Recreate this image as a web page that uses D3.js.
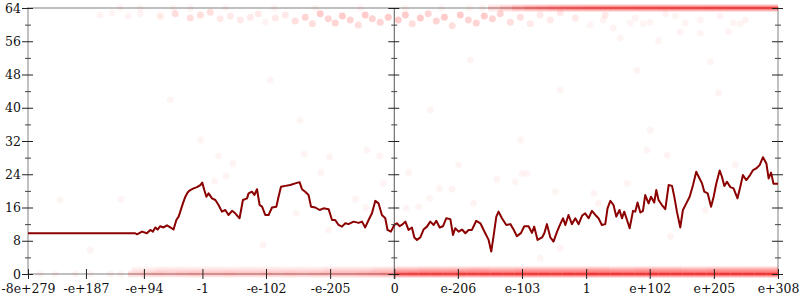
<!DOCTYPE html>
<html>
<head>
<meta charset="utf-8">
<script src="https://cdn.jsdelivr.net/npm/d3@7"></script>
<style>
  body { margin: 0; background: #fff; }
  text { font-family: "DejaVu Serif", serif; }
</style>
</head>
<body>
<script>
// x values are float64 bit patterns, in units of 2^52 (negatives mirrored)
const xTicks = [-1953, -1644, -1335, -1023, -684, -342, 0, 339, 681, 1023, 1362, 1704, 2046];
const xTickLabels = ["-8e+279", "-e+187", "-e+94", "-1", "-e-102", "-e-205", "0",
  "e-206", "e-103", "1", "e+102", "e+205", "e+308"];
const yTicks = [0, 8, 16, 24, 32, 40, 48, 56, 64];
const yMinorTicks = [4, 12, 20, 28, 36, 44, 52, 60];

// moving average  [x, value]
const averageLine = [
  [-1953, 9.8], [-1381, 9.8], [-1372, 9.55], [-1345, 10.2], [-1319, 9.8], [-1301, 10.6], [-1287, 10.2],
  [-1274, 11.2], [-1262, 10.7], [-1248, 11.5], [-1230, 11.2], [-1212, 11.7], [-1194, 11.2], [-1177, 10.7],
  [-1162, 13], [-1150, 13.8], [-1141, 15], [-1127, 17], [-1114, 18.6], [-1102, 19.6], [-1088, 20.2],
  [-1070, 20.6], [-1052, 20.9], [-1034, 21.4], [-1024, 22], [-1013, 20.2], [-1002, 18.6], [-990, 19.4],
  [-972, 18.2], [-954, 17.8], [-937, 16.6], [-919, 15], [-901, 15.4], [-884, 14.2], [-865, 15.2],
  [-848, 14.6], [-825, 13.4], [-807, 17.8], [-785, 18.2], [-777, 19.4], [-759, 19.8], [-746, 19],
  [-732, 20.4], [-718, 16.6], [-705, 16.2], [-688, 14.2], [-670, 14.2], [-652, 16], [-629, 16.2],
  [-617, 18.6], [-604, 21], [-581, 21.2], [-555, 21.4], [-528, 21.8], [-505, 22.1], [-492, 20.4],
  [-475, 19.8], [-457, 19], [-444, 16.2], [-421, 16], [-398, 15.4], [-377, 15.8], [-350, 15.6],
  [-332, 13], [-315, 13], [-297, 11.8], [-279, 11.4], [-261, 12.2], [-244, 12], [-217, 12.6],
  [-190, 12.3], [-172, 12.6], [-155, 11.2], [-137, 13], [-119, 14.6], [-101, 17.6], [-84, 17],
  [-66, 14.2], [-48, 13.4], [-36, 10.6], [-18, 10.2], [0, 11.8], [14, 12.2], [28, 11.5],
  [40, 11.8], [59, 12.6], [76, 10.6], [94, 11.2], [107, 8.8], [121, 8.2], [139, 8.8], [156, 10.7],
  [174, 11.4], [192, 12.6], [210, 11.8], [224, 12.8], [242, 11.2], [260, 11.5], [277, 13.4],
  [299, 13.2], [313, 9.4], [325, 11], [343, 10.2], [361, 10.7], [379, 9.8], [396, 10.6], [414, 10.6],
  [437, 12.8], [459, 12.2], [485, 9.8], [503, 8.2], [517, 5.4], [529, 9], [544, 13.8], [556, 15],
  [574, 13.4], [597, 11.8], [619, 12], [636, 10.7], [654, 9.1], [676, 9.9], [693, 11.5], [716, 11.5],
  [734, 9.9], [746, 11.4], [764, 8.2], [788, 8.8], [800, 9.8], [814, 12], [832, 8.8], [849, 7.8],
  [868, 10.2], [885, 12], [900, 13.4], [912, 11.8], [929, 14.2], [947, 12], [965, 13.4], [983, 12],
  [1001, 14], [1018, 14.6], [1036, 13.4], [1054, 15.2], [1072, 14.2], [1089, 13.4], [1107, 11.8],
  [1125, 12], [1137, 15.8], [1152, 17.6], [1169, 16.6], [1184, 13.8], [1201, 15.4], [1214, 13.4],
  [1226, 15], [1241, 13], [1255, 11], [1273, 15.2], [1285, 15], [1297, 17.2], [1312, 14.8],
  [1326, 15.2], [1338, 19], [1356, 17], [1369, 18.6], [1386, 17.2], [1397, 20.2], [1409, 17.8],
  [1427, 16.6], [1445, 15.6], [1463, 21.4], [1481, 21.2], [1493, 18.6], [1507, 15], [1525, 11.2],
  [1539, 15.4], [1557, 17], [1575, 18.6], [1593, 21.4], [1610, 24.6], [1623, 23.4], [1641, 21.8],
  [1653, 19.8], [1671, 19.4], [1689, 16.2], [1703, 18.6], [1717, 21.8], [1735, 24.9], [1747, 23.4],
  [1760, 21.2], [1774, 22.2], [1792, 20.9], [1809, 20.6], [1830, 18.2], [1845, 21], [1859, 23.8],
  [1877, 22.6], [1894, 23.6], [1913, 25], [1930, 25.4], [1948, 26.2], [1966, 28.1], [1984, 26.6],
  [1996, 23], [2009, 24.4], [2022, 21.7], [2046, 21.7]
];

// dense rows of samples, as bins: [bin start x, count]; a bin ends where the next starts
const zeroRow = [
  [-1420, 5], [-1356, 6], [-1292, 7], [-1228, 6], [-1164, 7], [-1100, 8], [-1036, 7], [-972, 7],
  [-908, 8], [-844, 7], [-780, 7], [-716, 8], [-652, 7], [-588, 8], [-524, 7], [-460, 8], [-396, 8],
  [-332, 9], [-268, 9], [-204, 10], [-140, 11], [-76, 12],
  [0, 26], [64, 28], [128, 29], [192, 30], [256, 29], [320, 31], [384, 30], [448, 31], [512, 32],
  [576, 31], [640, 33], [704, 32], [768, 33], [832, 32], [896, 34], [960, 33], [1024, 34], [1088, 33],
  [1152, 35], [1216, 34], [1280, 33], [1344, 35], [1408, 34], [1472, 35], [1536, 34], [1600, 35],
  [1664, 34], [1728, 35], [1792, 34], [1856, 35], [1920, 34], [1984, 35], [2046, 0]
];
const oneRow = [
  [-1400, 2], [-1272, 3], [-1144, 3], [-1016, 3], [-888, 3], [-760, 3], [-632, 3], [-504, 3],
  [-376, 4], [-248, 4], [-120, 5],
  [0, 8], [128, 9], [256, 9], [384, 10], [512, 9], [640, 10], [768, 10], [896, 10], [1024, 11],
  [1152, 10], [1280, 11], [1408, 11], [1536, 10], [1664, 11], [1792, 11], [1920, 11], [2046, 0]
];
const topRow = [
  [500, 5], [564, 8], [628, 12], [692, 15], [756, 17], [820, 19], [884, 21], [948, 22], [1012, 23],
  [1076, 24], [1140, 25], [1204, 25], [1268, 26], [1332, 26], [1396, 27], [1460, 27], [1524, 27],
  [1588, 27], [1652, 28], [1716, 28], [1780, 28], [1844, 28], [1908, 28], [1972, 28], [2046, 0]
];
const rowValues = { zero: 0, one: 1, top: 64 };

// samples just under the top  [x, value, count]
const topCloud = [
  [-1568, 62.3, 1], [-1504, 62.8, 1], [-1418, 62.1, 1], [-1354, 62.6, 1], [-1248, 62.1, 2],
  [-1168, 62.6, 3], [-1088, 61.6, 3], [-1034, 62.3, 3], [-981, 63, 3], [-928, 61.4, 2],
  [-874, 62.1, 2], [-821, 61.1, 2], [-768, 61.8, 2], [-725, 62.6, 2], [-688, 60.6, 1],
  [-634, 61.6, 2], [-581, 62.3, 2], [-528, 60.9, 3], [-475, 61.8, 4], [-437, 60.2, 3],
  [-395, 62.6, 5], [-352, 61.4, 4], [-315, 60.4, 4], [-277, 62.1, 5], [-235, 61.1, 4],
  [-192, 59.9, 3], [-155, 62.3, 5], [-117, 61.4, 4], [-75, 60.6, 4], [-32, 61.8, 5],
  [21, 61.1, 5], [59, 62.3, 5], [96, 60.2, 3], [139, 61.6, 5], [181, 62.6, 4], [224, 60.9, 4],
  [267, 61.8, 5], [309, 59.7, 3], [352, 62.3, 5], [395, 61.1, 4], [437, 60.4, 4], [480, 62.1, 5],
  [523, 61.4, 4], [565, 62.6, 4], [619, 60.6, 3], [672, 61.8, 3], [725, 60.2, 2], [778, 62.3, 2],
  [832, 61.1, 2], [885, 62.8, 2], [965, 61.6, 2], [1045, 59.9, 1], [1115, 61.1, 1], [1125, 62.3, 2],
  [1168, 59.2, 1], [1205, 56.8, 1], [1258, 60.4, 1], [1285, 61.6, 1], [1328, 60.2, 1],
  [1365, 60.6, 1], [1409, 56.1, 1], [1445, 62.6, 1], [1498, 62.1, 1], [1525, 58.2, 1],
  [1552, 60.4, 1], [1632, 61.1, 1], [1632, 57.9, 1], [1738, 62.1, 1], [1783, 58.3, 1],
  [1808, 60.4, 1], [1845, 60.2, 1], [1872, 61.1, 1]
];

// scattered single samples  [x, value]
const scattered = [
  [-937, 28.4], [-860, 26.6], [-896, 23.6], [-958, 22.4], [-1456, 18], [-700, 7], [-480, 28.9],
  [-345, 28.2], [-391, 24.4], [-146, 29.8], [-78, 28.4], [-60, 21.8], [-350, 10.6], [-523, 14.6],
  [-208, 18], [-151, 16], [76, 24.4], [343, 26.2], [681, 24.2], [708, 24.2], [645, 22.2], [242, 20.6],
  [308, 20.4], [423, 17], [548, 22.8], [858, 19.8], [1063, 19.4], [64, 15.8], [130, 16.2], [1089, 17],
  [1241, 21.8], [1347, 29.8], [1454, 28.6], [1472, 9], [885, 6.2], [778, 3.8], [188, 18.2],
  [1818, 26.2], [1721, 21], [1658, 15.4], [1294, 49], [1685, 51.1], [1729, 43.6], [-1194, 41.9],
  [-661, 46.7], [405, 51.5], [885, 44.3], [-501, 37], [-1034, 32.2], [192, 39.5], [1365, 34.6],
  [672, 32.2], [-1621, 5.8], [-1781, 17.8],
  [-1888, 0], [-1808, 0], [-1701, 0], [-1621, 0], [-1514, 0], [-1460, 0],
  [-1463, 64], [-1354, 64], [-1178, 64], [-1088, 64], [-900, 64], [-640, 64], [-420, 64], [-180, 64],
  [60, 64], [250, 64], [400, 64], [470, 64]
];

const width = 800, height = 300;
const margin = { top: 8, right: 22, bottom: 26, left: 28 };
const dotRadius = 3.5;

const x = d3.scaleLinear()
  .domain([xTicks[0], xTicks[xTicks.length - 1]])
  .range([margin.left, width - margin.right]);

const y = d3.scaleLinear()
  .domain([0, 64])
  .range([height - margin.bottom, margin.top]);

const svg = d3.select("body").append("svg")
  .attr("width", width)
  .attr("height", height)
  .attr("viewBox", [0, 0, width, height]);

// soft vertical edge for the dense rows, like stacked dots
const fade = svg.append("defs").append("linearGradient")
  .attr("id", "rowFade")
  .attr("x1", 0).attr("y1", 0).attr("x2", 0).attr("y2", 1);
fade.selectAll("stop")
  .data([[0, 0.05], [0.5, 1], [1, 0.05]])
  .join("stop")
    .attr("offset", d => d[0])
    .attr("stop-color", "red")
    .attr("stop-opacity", d => d[1]);

// frame
svg.append("rect")
  .attr("x", x.range()[0])
  .attr("y", y.range()[1])
  .attr("width", x.range()[1] - x.range()[0])
  .attr("height", y.range()[0] - y.range()[1])
  .attr("fill", "none")
  .attr("stroke", "#c0c0c0")
  .attr("stroke-width", 2);

// each sample is a faint dot, so alpha stacks with the count
const alpha = n => 1 - Math.pow(1 - 0.045, n);
const dots = svg.append("g").attr("fill", "red");

dots.append("g")
  .selectAll("circle")
  .data(scattered.map(d => [d[0], d[1], 1]).concat(topCloud))
  .join("circle")
    .attr("cx", d => x(d[0]))
    .attr("cy", d => y(d[1]))
    .attr("r", dotRadius)
    .attr("fill-opacity", d => alpha(d[2]));

const addRow = (bins, value) => {
  dots.append("g")
    .selectAll("rect")
    .data(bins.slice(0, -1).map((d, i) => [d[0], bins[i + 1][0], d[1]]))
    .join("rect")
      .attr("x", d => x(d[0]))
      .attr("width", d => x(d[1]) - x(d[0]))
      .attr("y", y(value) - dotRadius - 0.5)
      .attr("height", dotRadius * 2 + 1)
      .attr("fill", "url(#rowFade)")
      .attr("fill-opacity", d => alpha(d[2]));
};
addRow(oneRow, rowValues.one);
addRow(zeroRow, rowValues.zero);
addRow(topRow, rowValues.top);

// middle axis at zero
svg.append("line")
  .attr("x1", x(0)).attr("x2", x(0))
  .attr("y1", y(64)).attr("y2", y(0) + 5)
  .attr("stroke", "#555");

// average line
const line = d3.line()
  .x(d => x(d[0]))
  .y(d => y(d[1]));

svg.append("path")
  .datum(averageLine)
  .attr("fill", "none")
  .attr("stroke", "#8b0000")
  .attr("stroke-width", 2)
  .attr("stroke-linejoin", "round")
  .attr("d", line);

// y axes: left with labels, middle and right ticks only
const yAxisAt = [x.domain()[0], 0, x.domain()[1]];
yAxisAt.forEach((xv, i) => {
  const px = x(xv);
  svg.append("g")
    .attr("transform", `translate(${px + 5},0)`)
    .call(d3.axisLeft(y).tickValues(yTicks).tickSize(11).tickPadding(1)
      .tickFormat(i === 0 ? d3.format("d") : ""))
    .call(g => g.select(".domain").remove())
    .call(g => g.selectAll("line").attr("stroke", "#222"))
    .call(g => g.selectAll("text").attr("font-size", "12.5px").attr("fill", "#111")
      .attr("font-family", "DejaVu Serif, serif"));
  svg.append("g")
    .attr("transform", `translate(${px + 3},0)`)
    .call(d3.axisLeft(y).tickValues(yMinorTicks).tickSize(6).tickFormat(""))
    .call(g => g.select(".domain").remove())
    .call(g => g.selectAll("line").attr("stroke", "#444"));
});

// x axis
svg.append("g")
  .attr("transform", `translate(0,${y(0) - 5})`)
  .call(d3.axisBottom(x).tickValues(xTicks).tickSize(10).tickPadding(5.5)
    .tickFormat((d, i) => xTickLabels[i]))
  .call(g => g.select(".domain").remove())
  .call(g => g.selectAll("line").attr("stroke", "#222"))
  .call(g => g.selectAll("text").attr("font-size", "12.5px").attr("fill", "#111")
    .attr("font-family", "DejaVu Serif, serif"));
</script>
</body>
</html>
